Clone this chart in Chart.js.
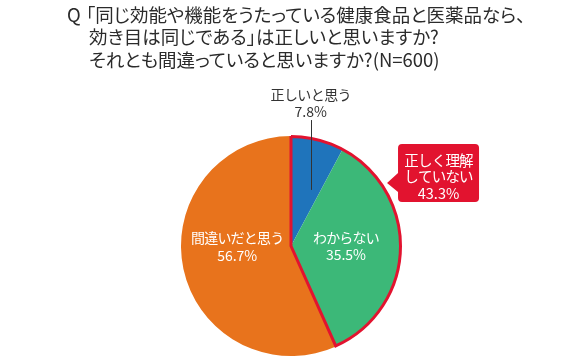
<!DOCTYPE html>
<html><head><meta charset="utf-8">
<script src="https://cdn.jsdelivr.net/npm/chart.js@4/dist/chart.umd.min.js"></script>
<style>
html,body{margin:0;padding:0;background:#fff;}
#wrap{position:relative;width:580px;height:363px;}
canvas{display:block;}
#title{position:absolute;left:0;top:0;font-family:'Noto Sans CJK JP',sans-serif;font-size:18.5px;color:#2b2b2b;font-feature-settings:"palt";line-height:23px;}
#title div{position:absolute;white-space:nowrap;}
</style></head>
<body><div id="wrap"><canvas id="c" width="580" height="363"></canvas><div id="title"></div></div>
<script>
const titlePrefix = "Q";
const titleLines = ["「同じ効能や機能をうたっている健康食品と医薬品なら、","効き目は同じである」は正しいと思いますか?","それとも間違っていると思いますか?(N=600)"];
const categories = ["正しいと思う","わからない","間違いだと思う"];
const values = [7.8, 35.5, 56.7];
const colors = ["#1f74bb","#3cb878","#e8731c"];
const calloutLines = ["正しく理解","していない","43.3%"];
const calloutIndices = [0,1];
const RED = "#e2132f";
const FONT = "'Noto Sans CJK JP','Noto Sans',sans-serif";

const tEl = document.getElementById('title');
const tops = [3,25,48];
const q = document.createElement('div'); q.textContent = titlePrefix; q.style.left='67px'; q.style.top=tops[0]+'px'; tEl.appendChild(q);
titleLines.forEach((t,i)=>{const d=document.createElement('div'); d.textContent=t; d.style.left=(i===0?86:89)+'px'; d.style.top=tops[i]+'px'; tEl.appendChild(d);});

const overlay = {
  id:'overlay',
  afterDatasetsDraw(chart){
    const ctx = chart.ctx;
    const meta = chart.getDatasetMeta(0);
    const a0 = meta.data[calloutIndices[0]], a1 = meta.data[calloutIndices[calloutIndices.length-1]];
    const cx = a0.x, cy = a0.y, R = a0.outerRadius;
    ctx.save();
    ctx.strokeStyle = RED; ctx.lineWidth = 3; ctx.lineJoin='miter';
    ctx.beginPath();
    ctx.moveTo(cx,cy);
    ctx.lineTo(cx+R*Math.cos(a0.startAngle), cy+R*Math.sin(a0.startAngle));
    ctx.arc(cx,cy,R-0.5,a0.startAngle,a1.endAngle);
    ctx.closePath();
    ctx.stroke();
    ctx.restore();

    ctx.save();
    ctx.textAlign='center'; ctx.textBaseline='middle';
    ctx.font = "14px "+FONT;
    ctx.letterSpacing = "-0.6px";
    const s0 = meta.data[0];
    const m0 = (s0.startAngle+s0.endAngle)/2;
    const lx = cx + R*0.74*Math.cos(m0);
    ctx.fillStyle = "#333";
    ctx.fillText(categories[0], lx, cy-R*1.373);
    ctx.letterSpacing = "0px";
    ctx.fillText(values[0].toFixed(1)+"%", lx, cy-R*1.218);
    ctx.strokeStyle="#333"; ctx.lineWidth=1;
    ctx.beginPath(); ctx.moveTo(Math.round(lx)+0.5, cy-R*1.145); ctx.lineTo(Math.round(lx)+0.5, cy-R*0.51); ctx.stroke();
    ctx.fillStyle="#fff";
    const yOff = [0,-2,-11];
    for (let i=1;i<values.length;i++){
      const s = meta.data[i];
      const m = (s.startAngle+s.endAngle)/2;
      const x = cx + R*0.5*Math.cos(m);
      const y = cy + R*0.5*Math.sin(m) + yOff[i];
      ctx.letterSpacing = "-0.8px";
      ctx.fillText(categories[i], x, y-8.5);
      ctx.letterSpacing = "0px";
      ctx.fillText(values[i].toFixed(1)+"%", x, y+9);
    }
    const bx = cx+R*0.973, by = cy-R*0.927, bw=81, bh=58, rr=4;
    ctx.fillStyle = RED;
    ctx.beginPath();
    ctx.moveTo(bx+rr,by); ctx.lineTo(bx+bw-rr,by); ctx.arcTo(bx+bw,by,bx+bw,by+rr,rr);
    ctx.lineTo(bx+bw,by+bh-rr); ctx.arcTo(bx+bw,by+bh,bx+bw-rr,by+bh,rr);
    ctx.lineTo(bx+rr,by+bh); ctx.arcTo(bx,by+bh,bx,by+bh-rr,rr);
    ctx.lineTo(bx,by+48); ctx.lineTo(cx+R*0.873, cy-R*0.573); ctx.lineTo(bx,by+29);
    ctx.lineTo(bx,by+rr); ctx.arcTo(bx,by,bx+rr,by,rr);
    ctx.closePath(); ctx.fill();
    ctx.fillStyle="#fff"; ctx.font="14.5px "+FONT;
    calloutLines.forEach((t,k)=>{ ctx.letterSpacing = k<2?"-0.8px":"0px"; ctx.fillText(t, bx+bw/2, by+16+k*16.5); });
    ctx.restore();
  }
};

new Chart(document.getElementById('c'), {
  type:'pie',
  data:{labels:categories, datasets:[{data:values, backgroundColor:colors, borderWidth:0}]},
  options:{
    responsive:false, animation:false,
    layout:{padding:{top:136,bottom:7,left:2,right:0}},
    plugins:{legend:{display:false},tooltip:{enabled:false}}
  },
  plugins:[overlay]
});
</script></body></html>
